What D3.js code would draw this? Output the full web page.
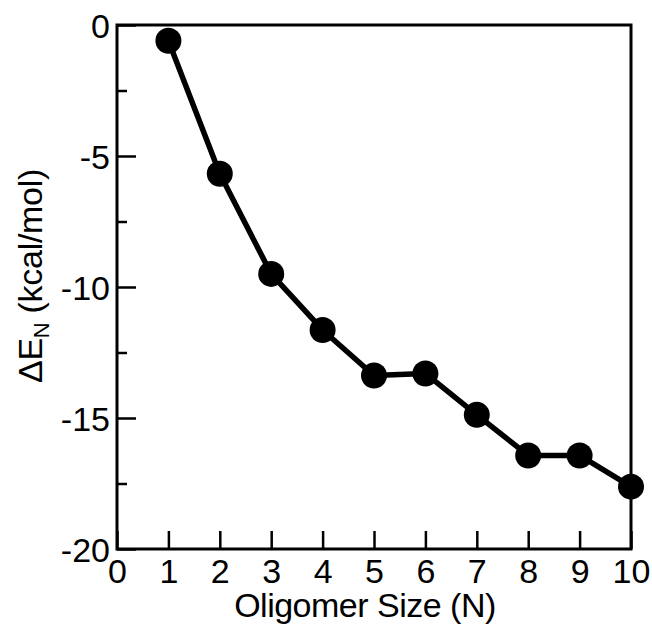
<!DOCTYPE html>
<html>
<head>
<meta charset="utf-8">
<script src="https://cdn.jsdelivr.net/npm/d3@7"></script>
<style>
  html, body { margin: 0; padding: 0; background: #fff; }
  svg { display: block; }
  text { font-family: "Liberation Sans", Arial, Helvetica, sans-serif; fill: #000; }
</style>
</head>
<body>
<svg id="chart" width="652" height="625"></svg>
<script>
// Data
const sizes = [1, 2, 3, 4, 5, 6, 7, 8, 9, 10];
const deltaE = [-0.6, -5.68, -9.5, -11.64, -13.38, -13.3, -14.88, -16.43, -16.43, -17.62];
const xTickValues = [0, 1, 2, 3, 4, 5, 6, 7, 8, 9, 10];
const yTickValues = [0, -5, -10, -15, -20];
const yMinorTickValues = [-2.5, -7.5, -12.5, -17.5];
const xTitle = "Oligomer Size (N)";

(function () {
const svg = d3.select("#chart");
const mLeft = 117, mRight = 631, mTop = 25, mBottom = 549;

const x = d3.scaleLinear().domain([0, 10]).range([mLeft, mRight]);
const y = d3.scaleLinear().domain([-20, 0]).range([mBottom, mTop]);

// X axis (ticks inward)
const xAxis = svg.append("g").attr("transform", `translate(0,${mBottom})`)
  .call(d3.axisBottom(x).tickValues(xTickValues).tickFormat(d => String(d))
    .tickSizeInner(-18).tickSizeOuter(0));
xAxis.select(".domain").remove();
xAxis.selectAll(".tick line").attr("stroke", "#000").attr("stroke-width", 2.5);
xAxis.selectAll(".tick text").attr("font-size", 34).attr("font-family", "Liberation Sans, Arial, sans-serif")
  .attr("y", 34).attr("dy", 0);

// Y axis major
const yAxis = svg.append("g").attr("transform", `translate(${mLeft},0)`)
  .call(d3.axisLeft(y).tickValues(yTickValues).tickFormat(d => String(d))
    .tickSizeInner(-19).tickSizeOuter(0));
yAxis.select(".domain").remove();
yAxis.selectAll(".tick line").attr("stroke", "#000").attr("stroke-width", 2.5);
yAxis.selectAll(".tick text").attr("font-size", 34).attr("font-family", "Liberation Sans, Arial, sans-serif")
  .attr("x", -7).attr("y", 12.5).attr("dy", 0);

// Y axis minor
const yMinor = svg.append("g").attr("transform", `translate(${mLeft},0)`)
  .call(d3.axisLeft(y).tickValues(yMinorTickValues).tickFormat("").tickSizeInner(-10).tickSizeOuter(0));
yMinor.select(".domain").remove();
yMinor.selectAll(".tick line").attr("stroke", "#000").attr("stroke-width", 2.5);

// Frame
svg.append("rect")
  .attr("x", mLeft).attr("y", mTop)
  .attr("width", mRight - mLeft).attr("height", mBottom - mTop)
  .attr("fill", "none").attr("stroke", "#000").attr("stroke-width", 3);

// Data line
const pts = sizes.map((s, i) => [s, deltaE[i]]);
svg.append("path")
  .datum(pts)
  .attr("fill", "none").attr("stroke", "#000").attr("stroke-width", 5.5)
  .attr("stroke-linejoin", "round")
  .attr("d", d3.line().x(d => x(d[0])).y(d => y(d[1])));

svg.selectAll("circle.pt").data(pts).enter().append("circle")
  .attr("class", "pt")
  .attr("cx", d => x(d[0])).attr("cy", d => y(d[1]))
  .attr("r", 13).attr("fill", "#000");

// X title
svg.append("text")
  .attr("x", 365).attr("y", 617)
  .attr("text-anchor", "middle").attr("font-size", 34)
  .attr("letter-spacing", -0.5)
  .text(xTitle);

// Y title
const yt = svg.append("text")
  .attr("transform", `translate(42,276) rotate(-90)`)
  .attr("text-anchor", "middle").attr("font-size", 34)
  .attr("letter-spacing", -0.3);
yt.append("tspan").text("\u0394E");
yt.append("tspan").attr("font-size", 22).attr("dy", 7).text("N");
yt.append("tspan").attr("dy", -7).text(" (kcal/mol)");
})();
</script>
</body>
</html>
